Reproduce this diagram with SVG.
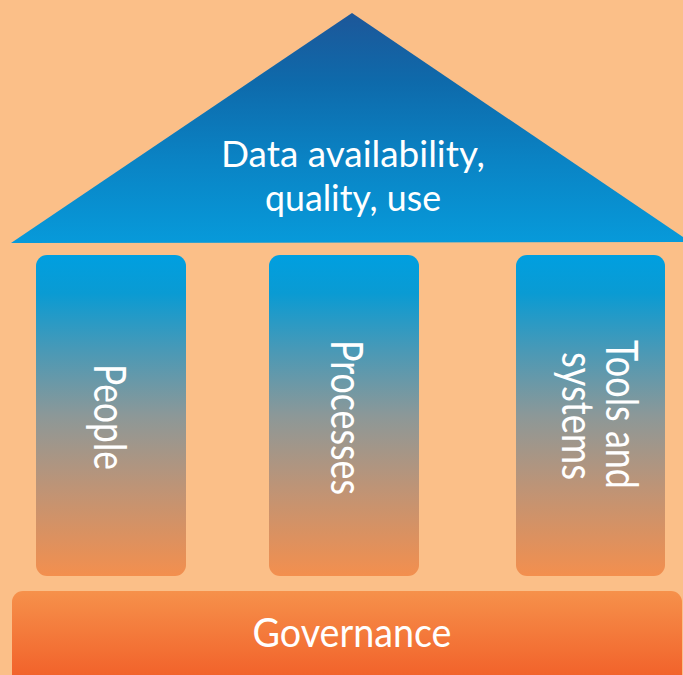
<svg xmlns="http://www.w3.org/2000/svg" width="683" height="675" viewBox="0 0 683 675">
<defs>
<linearGradient id="gRoof" x1="0" y1="0" x2="0" y2="1">
<stop offset="0" stop-color="#1d5799"/>
<stop offset="0.3" stop-color="#0e6aab"/>
<stop offset="0.65" stop-color="#0a84c5"/>
<stop offset="1" stop-color="#079ada"/>
</linearGradient>
<linearGradient id="gPillar" x1="0" y1="0" x2="0" y2="1">
<stop offset="0" stop-color="#009fe0"/>
<stop offset="0.12" stop-color="#0a9bd3"/>
<stop offset="0.3" stop-color="#4a99b6"/>
<stop offset="0.5" stop-color="#8c9898"/>
<stop offset="0.72" stop-color="#bd9477"/>
<stop offset="1" stop-color="#f38f4e"/>
</linearGradient>
<linearGradient id="gBase" x1="0" y1="0" x2="0" y2="1">
<stop offset="0" stop-color="#f6914b"/>
<stop offset="1" stop-color="#f15a25"/>
</linearGradient>
</defs>
<style>
.t{font-family:Lato,"Liberation Sans",sans-serif;fill:#ffffff;text-anchor:middle}
.roof{font-size:37px}
.gov{font-size:40px}
.pil{font-size:44px}
</style>
<rect width="683" height="675" fill="#fbbf88"/>
<g id="roof">
<polygon points="11,243 352,13 683,237 683,242" fill="url(#gRoof)"/>
<text class="t roof" x="353" y="167" textLength="264" lengthAdjust="spacingAndGlyphs">Data availability,</text>
<text class="t roof" x="353" y="211" textLength="176" lengthAdjust="spacingAndGlyphs">quality, use</text>
</g>
<g id="people">
<rect x="36" y="255" width="150" height="321" rx="11" fill="url(#gPillar)"/>
<text class="t pil" transform="translate(94,417) rotate(90)" textLength="106" lengthAdjust="spacingAndGlyphs">People</text>
</g>
<g id="processes">
<rect x="269" y="255" width="150" height="321" rx="11" fill="url(#gPillar)"/>
<text class="t pil" transform="translate(331,417.5) rotate(90)" textLength="155" lengthAdjust="spacingAndGlyphs">Processes</text>
</g>
<g id="tools">
<rect x="516" y="255" width="149" height="321" rx="11" fill="url(#gPillar)"/>
<text class="t pil" transform="translate(606,414.5) rotate(90)" textLength="149" lengthAdjust="spacingAndGlyphs">Tools and</text>
<text class="t pil" transform="translate(562,416) rotate(90)" textLength="128" lengthAdjust="spacingAndGlyphs">systems</text>
</g>
<g id="governance">
<rect x="12" y="591" width="670" height="100" rx="11" fill="url(#gBase)"/>
<text class="t gov" x="352" y="647" textLength="199" lengthAdjust="spacingAndGlyphs">Governance</text>
</g>
<g id="connectors"/>
</svg>
